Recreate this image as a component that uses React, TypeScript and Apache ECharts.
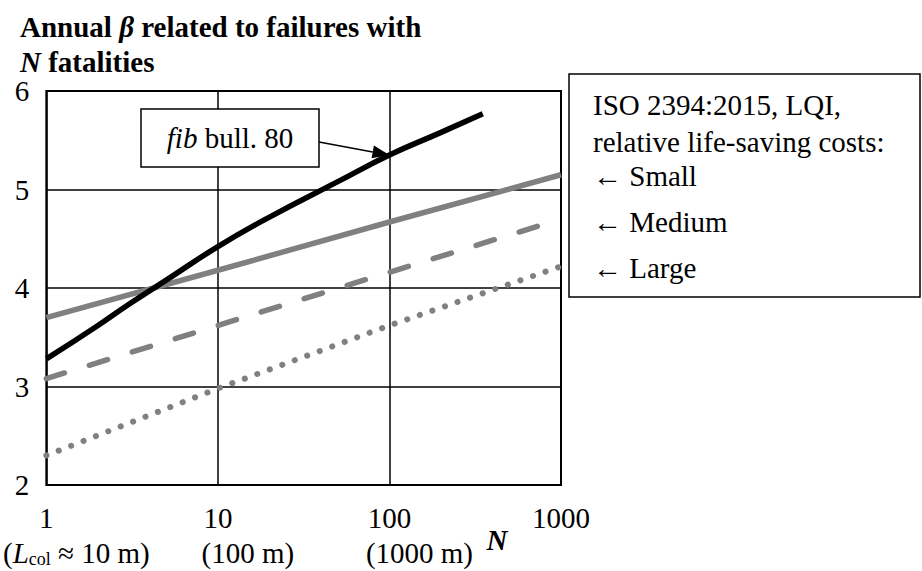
import React, { useEffect, useRef } from "react";
import * as echarts from "echarts";

const nTicks = [1, 10, 100, 1000];
const tickLabels = ["1", "10", "100", "1000"];
const lengthLabels = ["{p|(}{i|L}{s|col}{p| ≈ 10 m)}", "{p|(100 m)}", "{p|(1000 m)}", ""];
const fibN = [1, 2, 3, 5, 10, 20, 50, 100, 200, 350];
const fibBeta = [3.28, 3.62, 3.83, 4.08, 4.42, 4.72, 5.08, 5.35, 5.58, 5.77];
const isoN = [1, 10, 100, 1000];
const smallBeta = [3.7, 4.18, 4.67, 5.15];
const mediumBeta = [3.08, 3.62, 4.16, 4.7];
const largeBeta = [2.3, 2.98, 3.62, 4.22];
const legendLines = ["ISO 2394:2015, LQI,", "relative life-saving costs:", "← Small", "← Medium", "← Large"];
const legendRowY = [105, 142, 176, 222, 268];
const fibLabelN = 100;

const FONT = "Liberation Serif";
const FS = 29;
const GRAY = "#808080";

export default function App() {
  const ref = useRef<HTMLDivElement>(null);
  useEffect(() => {
    if (!ref.current) return;
    const chart = echarts.init(ref.current, undefined, { renderer: "svg" });
    const zip = (xs: number[], ys: number[]) => xs.map((x, i) => [x, ys[i]]);
    const labelFor = (v: number, arr: string[]) => {
      const i = nTicks.findIndex((t) => Math.abs(t - v) < 1e-6 * t);
      return i >= 0 ? arr[i] : "";
    };
    const rich = {
      p: { fontSize: FS, fontFamily: FONT, color: "#000" },
      i: { fontSize: FS, fontFamily: FONT, fontStyle: "italic", color: "#000" },
      s: { fontSize: 18, fontFamily: FONT, color: "#000", padding: [12, 0, 0, 0] },
    };
    const option: any = {
      animation: false,
      backgroundColor: "#fff",
      title: {
        left: 15,
        top: 4,
        padding: 5,
        text: "{b|Annual }{bi|β}{b| related to failures with}\n{bi|N}{b| fatalities}",
        textStyle: {
          rich: {
            b: { fontSize: FS, fontWeight: "bold", fontFamily: FONT, color: "#000", lineHeight: 35 },
            bi: { fontSize: FS, fontWeight: "bold", fontStyle: "italic", fontFamily: FONT, color: "#000", lineHeight: 35 },
          },
        },
      },
      grid: {
        left: 43,
        top: 91,
        width: 518,
        height: 394,
        show: true,
        borderColor: "#000",
        borderWidth: 2,
        backgroundColor: "transparent",
      },
      xAxis: [
        {
          type: "log",
          logBase: 10,
          min: 1,
          max: 1000,
          axisLine: { show: false },
          axisTick: { show: false },
          splitLine: { show: true, lineStyle: { color: "#000", width: 1.5 } },
          axisLabel: {
            margin: 18,
            fontSize: FS,
            fontFamily: FONT,
            color: "#000",
            formatter: (v: number) => labelFor(v, tickLabels),
          },
        },
        {
          type: "log",
          logBase: 10,
          min: 1,
          max: 1000,
          position: "bottom",
          offset: 35,
          axisLine: { show: false },
          axisTick: { show: false },
          splitLine: { show: false },
          axisLabel: {
            margin: 18,
            padding: [0, 0, 0, 60],
            fontFamily: FONT,
            rich,
            formatter: (v: number) => labelFor(v, lengthLabels),
          },
        },
      ],
      yAxis: {
        type: "value",
        min: 2,
        max: 6,
        interval: 1,
        axisLine: { show: false },
        axisTick: { show: false },
        splitLine: { show: true, lineStyle: { color: "#000", width: 1.5 } },
        axisLabel: { margin: 17, fontSize: FS, fontFamily: FONT, color: "#000" },
      },
      series: [
        {
          type: "line",
          name: "Large",
          data: zip(isoN, largeBeta),
          showSymbol: false,
          lineStyle: { color: GRAY, width: 6, type: [0.1, 13.2], cap: "round" },
        },
        {
          type: "line",
          name: "Medium",
          data: zip(isoN, mediumBeta),
          showSymbol: false,
          lineStyle: { color: GRAY, width: 5.5, type: [19, 26], cap: "round" },
        },
        {
          type: "line",
          name: "Small",
          data: zip(isoN, smallBeta),
          showSymbol: false,
          lineStyle: { color: GRAY, width: 5.5, type: "solid" },
        },
        {
          type: "line",
          name: "fib bull. 80",
          data: zip(fibN, fibBeta),
          smooth: true,
          showSymbol: false,
          lineStyle: { color: "#000", width: 5.5 },
        },
      ],
    };
    chart.setOption(option);

    const tip = chart.convertToPixel({ xAxisIndex: 0, yAxisIndex: 0 }, [
      fibLabelN,
      fibBeta[fibN.indexOf(fibLabelN)],
    ]) as number[];
    const start = [319, 142];
    const ang = Math.atan2(tip[1] - start[1], tip[0] - start[0]);
    const hl = 17, hw = 6.5;
    const bx = tip[0] - hl * Math.cos(ang), by = tip[1] - hl * Math.sin(ang);
    const px = -Math.sin(ang) * hw, py = Math.cos(ang) * hw;

    const graphics: any[] = [
      {
        type: "rect",
        shape: { x: 569, y: 74, width: 351, height: 223 },
        style: { fill: "#fff", stroke: "#000", lineWidth: 1.5 },
      },
      ...legendLines.map((t, i) => ({
        type: "text",
        x: 593,
        y: legendRowY[i],
        style: { text: t, fontSize: FS, fontFamily: FONT, fill: "#000", verticalAlign: "middle" },
      })),
      {
        type: "rect",
        shape: { x: 141, y: 109, width: 178, height: 58 },
        style: { fill: "#fff", stroke: "#000", lineWidth: 1.5 },
        z: 100,
      },
      {
        type: "text",
        x: 230,
        y: 138,
        z: 101,
        style: {
          text: "{i|fib}{p| bull. 80}",
          rich,
          align: "center",
          verticalAlign: "middle",
        },
      },
      {
        type: "line",
        z: 100,
        shape: { x1: start[0], y1: start[1], x2: bx, y2: by },
        style: { stroke: "#000", lineWidth: 1.5 },
      },
      {
        type: "polygon",
        z: 100,
        shape: { points: [[tip[0], tip[1]], [bx + px, by + py], [bx - px, by - py]] },
        style: { fill: "#000" },
      },
      {
        type: "text",
        x: 497,
        y: 540,
        style: {
          text: "N",
          fontSize: FS,
          fontStyle: "italic",
          fontWeight: "bold",
          fontFamily: FONT,
          fill: "#000",
          align: "center",
          verticalAlign: "middle",
        },
      },
    ];
    chart.setOption({ graphic: graphics });
    return () => chart.dispose();
  }, []);
  return (
    <div
      ref={ref}
      style={{ position: "absolute", left: 0, top: 0, width: 922, height: 571 }}
    />
  );
}
